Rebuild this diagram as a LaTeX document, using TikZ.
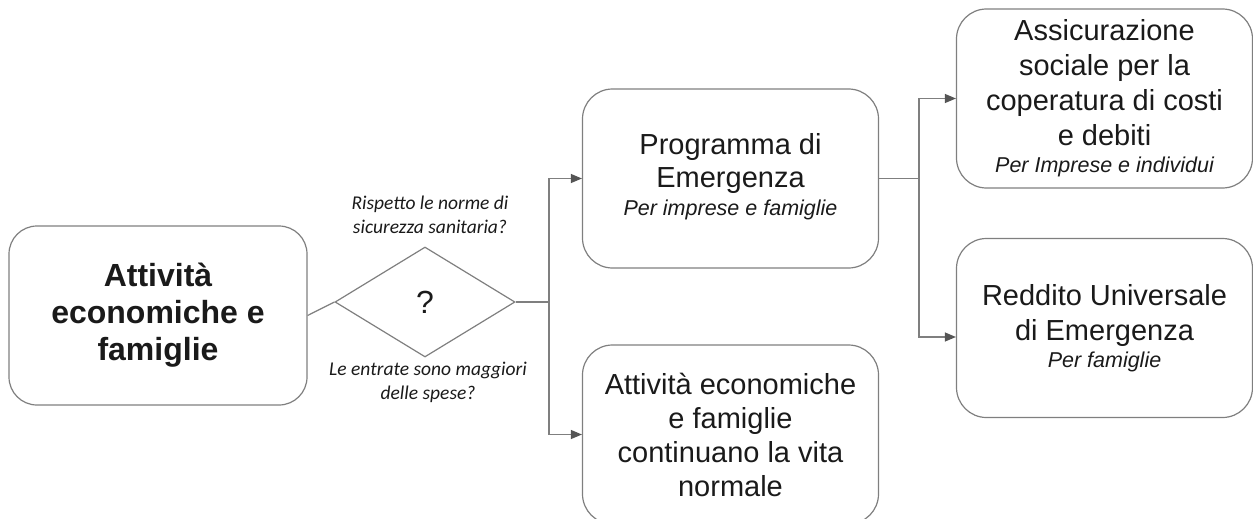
\documentclass[tikz,border=0pt]{standalone}
\usepackage{fontspec}
\setmainfont{Liberation Sans}
\newfontfamily\calfont{Carlito}
\usetikzlibrary{shapes.geometric,arrows.meta}
\definecolor{linegray}{HTML}{7F7F7F}
\definecolor{tipgray}{HTML}{555555}
\definecolor{txt}{HTML}{1A1A1A}
\newcommand{\subtxt}{\itshape\fontsize{21.5}{24}\selectfont}
\tikzset{
  box/.style={draw=linegray, line width=1.2pt, rounded corners=30pt, minimum width=296pt, minimum height=179pt, inner sep=0pt, align=center, text=txt},
  dia/.style={draw=linegray, line width=1.2pt, diamond, minimum width=180pt, minimum height=110pt, inner sep=0pt, text=txt},
  conn/.style={draw=linegray, line width=1.2pt},
  arr/.style={conn, -{Triangle[length=11pt,width=9pt,fill=tipgray,color=tipgray]}},
  lbl/.style={align=center, text=txt, font=\calfont\itshape\fontsize{19.5}{24}\selectfont},
  main/.style={font=\fontsize{29}{34}\selectfont}
}
\begin{document}
\begin{tikzpicture}[x=1pt,y=-1pt]
\useasboundingbox (0,0) rectangle (1253,519);
\node[box, rounded corners=28pt, minimum width=298pt, font=\bfseries\fontsize{32}{37}\selectfont] (lbox) at (158,315.5) {Attività\\economiche e\\famiglie};
\node[dia, font=\fontsize{32}{34}\selectfont] (q) at (425,302) {?};
\node[lbl] (l1) at (430,215) {Rispetto le norme di\\sicurezza sanitaria?};
\node[lbl] (l2) at (428,382) {Le entrate sono maggiori\\delle spese?};
\node[box, font=\fontsize{29}{33}\selectfont, text depth=8pt] (prog) at (730.5,178.5) {Programma di\\Emergenza\\[-5pt]\subtxt Per imprese e famiglie};
\node[box, main] (cont) at (730.5,434.5) {Attività economiche\\e famiglie\\continuano la vita\\normale};
\node[box, font=\fontsize{29}{35}\selectfont] (ass) at (1104.5,98.5) {Assicurazione\\sociale per la\\coperatura di costi\\e debiti\\[-8pt]\subtxt Per Imprese e individui};
\node[box, font=\fontsize{29}{35}\selectfont] (red) at (1104.5,328) {Reddito Universale\\di Emergenza\\[-8pt]\subtxt Per famiglie};
\coordinate (b1) at (549,302);
\coordinate (b2) at (919,178.5);
\draw[conn] (lbox.east) -- (q.west);
\draw[conn] (q.east) -- (b1);
\draw[arr] (b1) |- (prog.west);
\draw[arr] (b1) |- (cont.west);
\draw[conn] (prog.east) -- (b2);
\draw[arr] (b2) |- (ass.west);
\draw[arr] (b2) |- ([yshift=-9pt]red.west);
\end{tikzpicture}
\end{document}
